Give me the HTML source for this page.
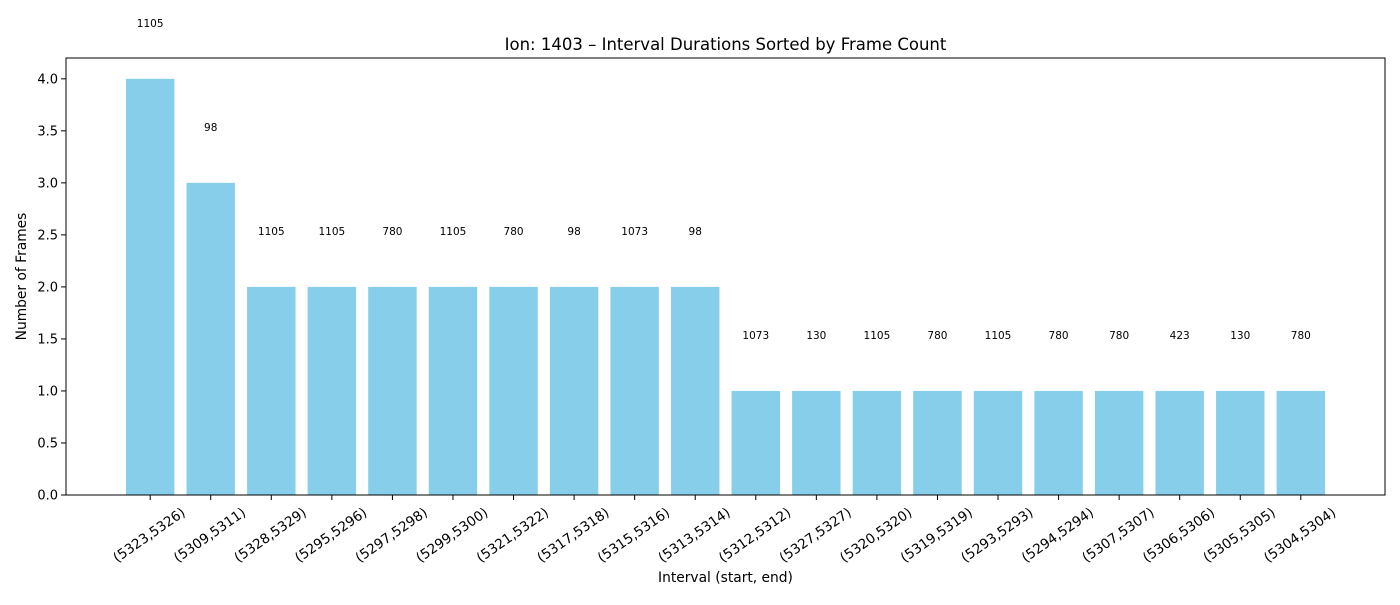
<!DOCTYPE html>
<html><head><meta charset="utf-8"><style>
body{margin:0;background:#fff;}
svg{font-family:"DejaVu Sans","Liberation Sans",sans-serif;}
</style></head><body>
<svg id="chart" width="1400" height="600" xmlns="http://www.w3.org/2000/svg">
<rect width="1400" height="600" fill="#fff"/>
<text x="725.5" y="50" font-size="16.5" text-anchor="middle">Ion: 1403 – Interval Durations Sorted by Frame Count</text>
<g id="bars"></g><g id="yaxis"></g><g id="xaxis"></g><g id="labels"></g>
<rect x="66" y="58" width="1319" height="437" fill="none" stroke="#000" stroke-width="1"/>
<text x="725.5" y="582" font-size="13.8" text-anchor="middle">Interval (start, end)</text>
<text x="0" y="0" font-size="13.8" text-anchor="middle" transform="translate(26,276.5) rotate(-90)">Number of Frames</text>
</svg>
<script>
const categories=["(5323,5326)","(5309,5311)","(5328,5329)","(5295,5296)","(5297,5298)","(5299,5300)","(5321,5322)","(5317,5318)","(5315,5316)","(5313,5314)","(5312,5312)","(5327,5327)","(5320,5320)","(5319,5319)","(5293,5293)","(5294,5294)","(5307,5307)","(5306,5306)","(5305,5305)","(5304,5304)"];
const frameCounts=[4,3,2,2,2,2,2,2,2,2,1,1,1,1,1,1,1,1,1,1];
const barLabels=["1105","98","1105","1105","780","1105","780","98","1073","98","1073","130","1105","780","1105","780","780","423","130","780"];
const yTicks=[0,0.5,1,1.5,2,2.5,3,3.5,4];
const NS="http://www.w3.org/2000/svg";
const L=66,R=1385,T=58,B=495,YMAX=4.2;
const n=categories.length;
const xmin=-0.4-0.05*(n-1+0.8),xmax=n-1+0.4+0.05*(n-1+0.8);
const x=v=>L+(v-xmin)/(xmax-xmin)*(R-L);
const y=v=>B-v/YMAX*(B-T);
const bw=x(0.8)-x(0);
function mk(tag,attrs,parent,text){const e=document.createElementNS(NS,tag);for(const k in attrs)e.setAttribute(k,attrs[k]);if(text!==undefined)e.textContent=text;document.getElementById(parent).appendChild(e);return e;}
categories.forEach((c,i)=>{
  const v=frameCounts[i];
  const b=mk('rect',{x:x(i)-bw/2,y:y(v),width:bw,height:y(0)-y(v),fill:'#87ceeb'},'bars');
  
  
  const t=mk('text',{x:x(i),y:y(v+0.5),'font-size':'10.5','text-anchor':'middle'},'labels',barLabels[i]);
  
  
  const tk=mk('line',{x1:x(i),x2:x(i),y1:B,y2:B+5,stroke:'#000'},'xaxis');
  
  
  const cx=x(i)-1,cy=535;
  const tl=mk('text',{x:cx,y:cy+4.5,'font-size':'13.6','text-anchor':'middle',transform:`rotate(-35 ${cx} ${cy})`},'xaxis',c);
  
  
});
yTicks.forEach(v=>{
  const tk=mk('line',{x1:L-5,x2:L,y1:y(v),y2:y(v),stroke:'#000'},'yaxis');
  
  
  const tl=mk('text',{x:L-8,y:y(v)+4.5,'font-size':'13','text-anchor':'end'},'yaxis',v.toFixed(1));
  
  
});
</script>
</body></html>
